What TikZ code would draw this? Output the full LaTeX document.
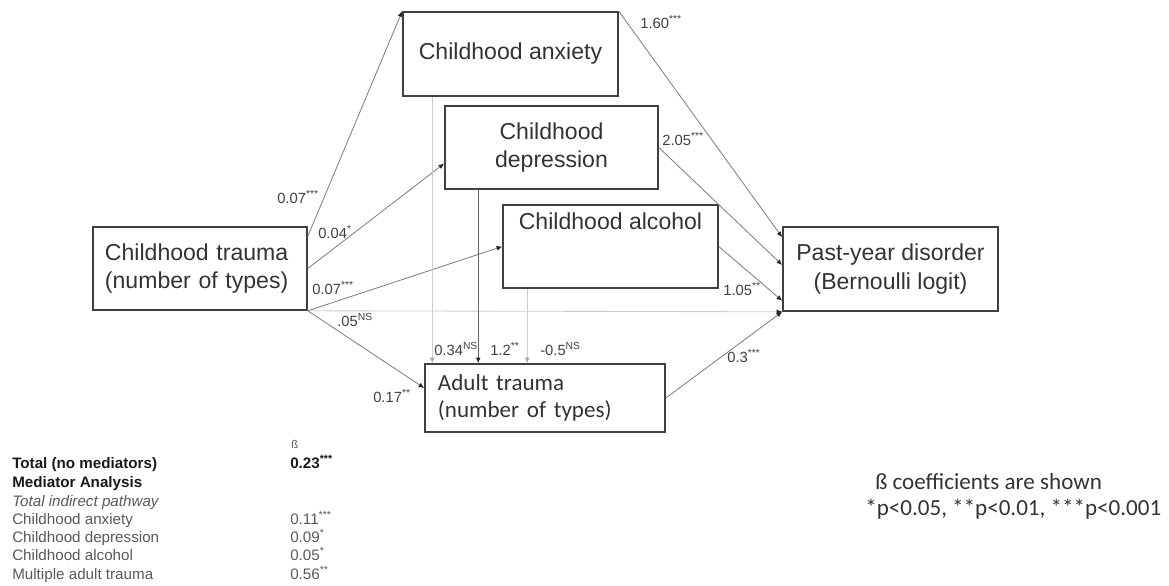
\documentclass[tikz,border=0pt]{standalone}
\usepackage{fontspec}
\setmainfont{Liberation Sans}
\newfontfamily\calfont{Carlito}
\usetikzlibrary{arrows.meta}

\tikzset{
  box/.style={draw=black!75, line width=1.1pt, rectangle, inner sep=0pt, text=black!80,
    font=\fontsize{16.4}{20.5}\selectfont, align=center},
  link/.style={draw=black!50, line width=0.6pt, -{Latex[length=4pt,width=3.5pt,color=black!85]}},
  faint/.style={link, draw=black!20, -{Latex[length=4pt,width=3.5pt,color=black!35]}},
  coef/.style={inner sep=0pt, anchor=base west, text=black!75, font=\fontsize{10.5}{12}\selectfont},
  tab/.style={inner sep=0pt, anchor=base west, text=black!65, font=\fontsize{10.8}{13}\selectfont},
}

\begin{document}
\begin{tikzpicture}[x=0.025cm, y=-0.025cm]
    \useasboundingbox (0,0) rectangle (1169,585);

    % Boxes
    \node[box, minimum width=5.35cm, minimum height=2.075cm, text width=4.75cm, align=left] (trauma) at (200,268.5) {Childhood trauma\\(number of types)};
    \node[box, minimum width=5.375cm, minimum height=2.1cm] (anxiety) at (510.5,54) {Childhood anxiety};
    \node[box, minimum width=5.325cm, minimum height=2.075cm] (depression) at (551.5,147.5) {Childhood\\depression};
    \node[box, minimum width=5.375cm, text height=0.625cm, text depth=1.45cm] (alcohol) at (610.5,246.5) {Childhood alcohol};
    \node[box, minimum width=5.375cm, minimum height=2.1cm] (disorder) at (890.5,269) {Past-year disorder\\(Bernoulli logit)};
    \node[box, minimum width=6cm, minimum height=1.7cm, text width=5.35cm, align=left,
      font=\calfont\fontsize{16.4}{19.1}\selectfont] (adult) at (545,398) {Adult trauma\\(number of types)};

    % Paths from childhood trauma
    \draw[link] ([yshift=-0.25cm]trauma.north east) -- (anxiety.north west);
    \draw[link] (trauma.east) -- ([yshift=-0.4cm]depression.west);
    \draw[link] (trauma.south east) -- (alcohol.west);
    \draw[faint, -{Latex[length=4pt,width=3.5pt,color=black!85]}] (trauma.south east) -- (disorder.south west);
    \draw[link] (trauma.south east) -- ([yshift=0.25cm]adult.west);

    % Paths to past-year disorder
    \draw[link] (anxiety.north east) -- ([yshift=-0.275cm]disorder.north west);
    \draw[link] (depression.east) -- ([yshift=0.1cm]disorder.west);
    \draw[link] (alcohol.east) -- ([yshift=0.275cm]disorder.south west);
    \draw[link] (adult.east) -- (disorder.south west);

    % Paths down to adult trauma
    \coordinate (anxdown) at ([xshift=0.75cm]anxiety.south west);
    \coordinate (depdown) at ([xshift=0.85cm]depression.south west);
    \coordinate (alcdown) at ([xshift=0.625cm]alcohol.south west);
    \draw[faint] (anxdown) -- (anxdown |- adult.north);
    \draw[link, draw=black!60] (depdown) -- (depdown |- adult.north);
    \draw[faint] (alcdown) -- (alcdown |- adult.north);

    % Coefficients
    \node[coef] (c1) at (277,203) {0.07\textsuperscript{***}};
    \node[coef] (c2) at (318,238) {0.04\textsuperscript{*}};
    \node[coef] (c3) at (312,294) {0.07\textsuperscript{***}};
    \node[coef] (c4) at (337,326) {.05\textsuperscript{NS}};
    \node[coef] (c5) at (640,28) {1.60\textsuperscript{***}};
    \node[coef] (c6) at (662,145) {2.05\textsuperscript{***}};
    \node[coef] (c7) at (723,295) {1.05\textsuperscript{**}};
    \node[coef] (c8) at (434,355) {0.34\textsuperscript{NS}};
    \node[coef] (c9) at (490,355) {1.2\textsuperscript{**}};
    \node[coef] (c10) at (540,355) {-0.5\textsuperscript{NS}};
    \node[coef] (c11) at (727,362) {0.3\textsuperscript{***}};
    \node[coef] (c12) at (373,402) {0.17\textsuperscript{**}};

    % Table
    \node[tab, font=\fontsize{8}{9}\selectfont] (beta) at (291,448) {ß};
    \node[tab, text=black!90, font=\fontsize{10.8}{13}\selectfont\bfseries] (total) at (12,468) {Total (no mediators)};
    \node[tab, text=black!90, font=\fontsize{10.8}{13}\selectfont\bfseries] (totalval) at (290,468) {0.23\textsuperscript{***}};
    \node[tab, text=black!90, font=\fontsize{10.8}{13}\selectfont\bfseries] (medhead) at (12,487) {Mediator Analysis};
    \node[tab, font=\fontsize{10.8}{13}\selectfont\itshape] (indirect) at (12,506) {Total indirect pathway};
    \foreach \i/\y/\name/\val in {1/524/Childhood anxiety/0.11\textsuperscript{***}, 2/542/Childhood depression/0.09\textsuperscript{*}, 3/560/Childhood alcohol/0.05\textsuperscript{*}, 4/579/Multiple adult trauma/0.56\textsuperscript{**}} {
      \node[tab] (row\i) at (12,\y) {\name};
      \node[tab] (val\i) at (290,\y) {\val};
    }

    % Legend
    \node[anchor=base west, inner sep=0pt, text=black!80, font=\calfont\fontsize{16.4}{19}\selectfont] (legend1) at (875,489) {ß coefficients are shown};
    \node[anchor=base west, inner sep=0pt, text=black!80, font=\calfont\fontsize{16.4}{19}\selectfont] (legend2) at (865,515) {*p<0.05, **p<0.01, ***p<0.001};
\end{tikzpicture}
\end{document}
